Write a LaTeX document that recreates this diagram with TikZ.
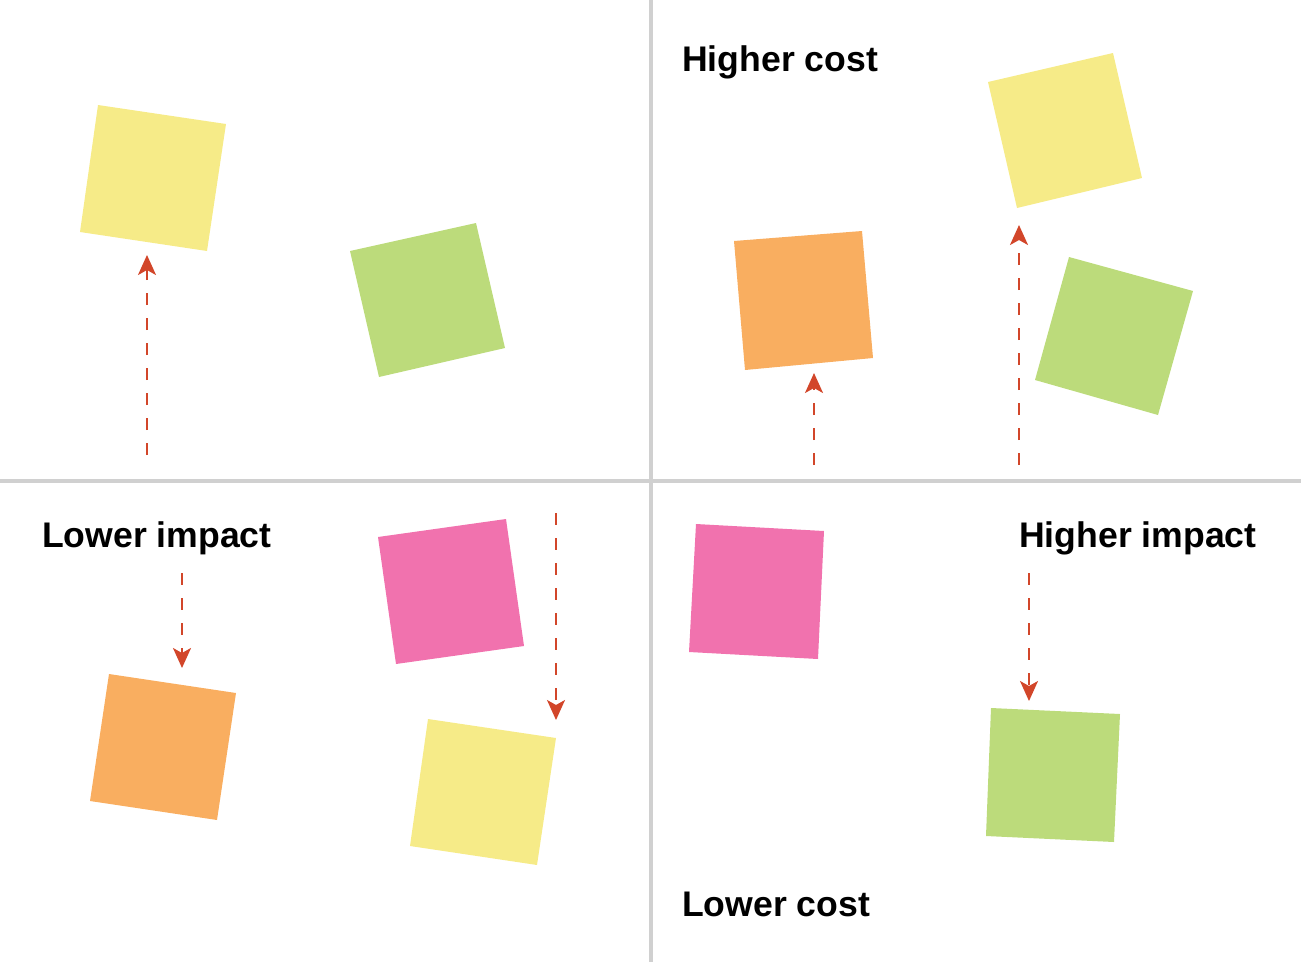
\documentclass[tikz,border=0pt]{standalone}
\usepackage{fontspec}
\setmainfont{Liberation Sans}
\usetikzlibrary{arrows.meta}
\definecolor{sy}{HTML}{F6EB88}
\definecolor{sg}{HTML}{BCDB7B}
\definecolor{so}{HTML}{F9AE60}
\definecolor{sp}{HTML}{F172AE}
\definecolor{ar}{HTML}{D2462A}
\definecolor{gl}{HTML}{D0D0D0}
\tikzset{
  note/.style={draw=none},
  axis/.style={draw=gl,line width=4pt},
  flow/.style={draw=ar,line width=2pt,dash pattern=on 12pt off 13pt,-{Stealth[length=20pt,width=18pt,inset=5pt]}},
  lbl/.style={anchor=base west,inner sep=0pt,font=\fontsize{35.6}{40}\selectfont\bfseries}
}
\begin{document}
\begin{tikzpicture}[x=1pt,y=-1pt]
\useasboundingbox (0,0) rectangle (1301,962);
% axes
\coordinate (vt) at (651,0); \coordinate (vb) at (651,962);
\coordinate (hl) at (0,481); \coordinate (hr) at (1301,481);
\draw[axis] (vt) -- (vb);
\draw[axis] (hl) -- (hr);
% sticky notes
\fill[sy] (98,105) -- (226,124) -- (207,251) -- (80,232) -- cycle;
\fill[sg] (350,251) -- (476,223) -- (505,348) -- (379,377) -- cycle;
\fill[so] (734,241) -- (862,231) -- (873,358) -- (745,370) -- cycle;
\fill[sy] (988,82) -- (1113,53) -- (1142,178) -- (1017,208) -- cycle;
\fill[sg] (1069,257) -- (1193,291) -- (1158,415) -- (1035,380) -- cycle;
\fill[sp] (378,537) -- (506,519) -- (524,646) -- (396,664) -- cycle;
\fill[so] (109,674) -- (236,693) -- (217,820) -- (90,801) -- cycle;
\fill[sy] (428,719) -- (556,738) -- (537,865) -- (410,846) -- cycle;
\fill[sp] (696,524) -- (824,531) -- (818,659) -- (689,652) -- cycle;
\fill[sg] (991,708) -- (1120,714) -- (1114,842) -- (986,836) -- cycle;
% arrows
\coordinate (a1s) at (147,455); \coordinate (a1e) at (147,255);
\coordinate (a2s) at (814,465); \coordinate (a2e) at (814,373);
\coordinate (a3s) at (1019,465); \coordinate (a3e) at (1019,225);
\coordinate (a4s) at (182,573); \coordinate (a4e) at (182,668);
\coordinate (a5s) at (556,513); \coordinate (a5e) at (556,720);
\coordinate (a6s) at (1029,573); \coordinate (a6e) at (1029,701);
\draw[flow] (a1s) -- (a1e);
\draw[flow] (a2s) -- (a2e);
\draw[flow] (a3s) -- (a3e);
\draw[flow] (a4s) -- (a4e);
\draw[flow] (a5s) -- (a5e);
\draw[flow] (a6s) -- (a6e);
% labels
\node[lbl] (hc) at (682,71) {Higher cost};
\node[lbl] (li) at (42,547) {Lower impact};
\node[lbl] (hi) at (1019,547) {Higher impact};
\node[lbl] (lc) at (682,916) {Lower cost};
\end{tikzpicture}
\end{document}
